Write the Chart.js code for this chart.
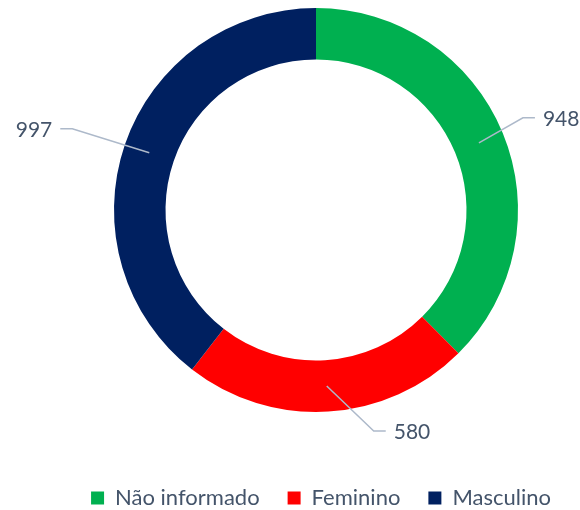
<!DOCTYPE html>
<html><head><meta charset="utf-8">
<script src="https://cdn.jsdelivr.net/npm/chart.js@4"></script>
<style>html,body{margin:0;padding:0;background:#fff;}#wrap{width:580px;height:510px;}</style>
</head><body><div id="wrap"><canvas id="c" width="580" height="510"></canvas></div>
<script>
const categories = ['Não informado', 'Feminino', 'Masculino'];
const values = [948, 580, 997];
const sliceColors = ['#00B050', '#FF0000', '#002060'];

// label leader geometry (style only): elbow offset from slice anchor, side
const leaderStyle = [[44, -25, 1], [47, 45, 1], [-77, -24, -1]];
const textColor = '#44546A';
const lineColor = '#ADB9CA';
const fontFamily = 'Lato, "Open Sans", sans-serif';

const leaderPlugin = {
  id: 'leaders',
  afterDatasetsDraw(chart) {
    const ctx = chart.ctx;
    const meta = chart.getDatasetMeta(0);
    const ds = chart.data.datasets[0].data;
    meta.data.forEach((arc, i) => {
      const p = arc.getProps(['x', 'y', 'startAngle', 'endAngle', 'innerRadius', 'outerRadius'], true);
      const mid = (p.startAngle + p.endAngle) / 2;
      const r = (p.innerRadius + p.outerRadius) / 2;
      const ax = p.x + Math.cos(mid) * r, ay = p.y + Math.sin(mid) * r;
      const [dx, dy, side] = leaderStyle[i];
      const ex = ax + dx, ey = ay + dy;
      const hx = ex + side * 12;
      ctx.save();
      ctx.strokeStyle = lineColor;
      ctx.lineWidth = 1.5;
      ctx.beginPath();
      ctx.moveTo(ax, ay); ctx.lineTo(ex, ey); ctx.lineTo(hx, ey);
      ctx.stroke();
      ctx.fillStyle = textColor;
      ctx.font = '21px ' + fontFamily;
      ctx.textBaseline = 'middle';
      ctx.textAlign = side > 0 ? 'left' : 'right';
      ctx.fillText(String(ds[i]), hx + side * 8, ey + 1);
      ctx.restore();
    });
  }
};

const defaultGen = Chart.overrides.doughnut.plugins.legend.labels.generateLabels;

new Chart(document.getElementById('c'), {
  type: 'doughnut',
  data: {
    labels: categories,
    datasets: [{
      data: values,
      backgroundColor: sliceColors,
      borderWidth: 0,
      radius: 202,
      cutout: '74.5%',
      clip: false
    }]
  },
  options: {
    responsive: false,
    animation: false,
    events: [],
    layout: { padding: { left: 62, right: 0, top: 0, bottom: -9 } },
    plugins: {
      tooltip: { enabled: false },
      title: {
        display: true,
        position: 'right',
        text: ' ',
        font: { size: 10, lineHeight: 1 },
        padding: 0
      },
      legend: {
        position: 'bottom',
        align: 'center',
        title: {
          display: true,
          text: ' ',
          font: { size: 10, lineHeight: 1 },
          padding: { top: 29, bottom: 0 }
        },
        labels: {
          boxWidth: 13,
          boxHeight: 13,
          padding: 28,
          color: textColor,
          font: { family: fontFamily, size: 22 },
          generateLabels(chart) {
            return defaultGen(chart).map(l => Object.assign(l, { lineWidth: 0 }));
          }
        }
      }
    }
  },
  plugins: [leaderPlugin]
});
</script>
</body></html>
